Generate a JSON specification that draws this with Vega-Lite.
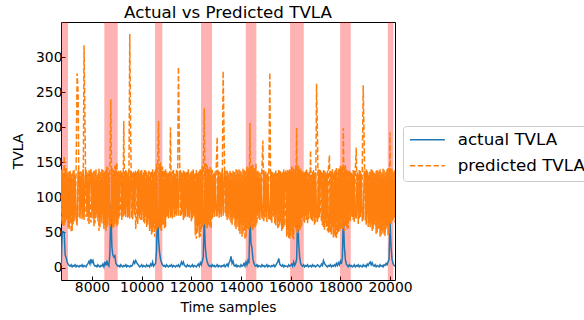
{
"$schema": "https://vega.github.io/schema/vega-lite/v6.json",
"width": 334, "height": 258,
"autosize": {"type": "none"},
"padding": {"left": 61, "top": 22, "right": 189, "bottom": 40},
"background": "white",
"title": {"text": "Actual vs Predicted TVLA", "fontSize": 16.7, "font": "DejaVu Sans", "fontWeight": "normal", "color": "#000", "anchor": "middle", "offset": 0, "dy": 0},
"config": {
 "view": {"stroke": "#000", "strokeWidth": 1},
 "font": "DejaVu Sans",
 "axis": {"domain": false, "grid": false, "tickColor": "#000", "tickWidth": 1, "tickSize": -4, "labelColor": "#000", "labelFontSize": 13.9, "labelFont": "DejaVu Sans", "titleFont": "DejaVu Sans", "titleFontSize": 13.9, "titleFontWeight": "normal", "titleColor": "#000"},
 "legend": {"orient": "none", "legendX": 342, "legendY": 104, "title": null, "symbolType": "M-2.5,0H2.5", "symbolSize": 196, "symbolStrokeWidth": 1.5, "symbolOffset": 10.5, "labelOffset": 22, "labelFontSize": 16.7, "labelFont": "DejaVu Sans", "labelColor": "#000", "strokeColor": "#cccccc", "fillColor": "#ffffff", "cornerRadius": 3, "padding": 5.5, "rowPadding": 8}
},
"datasets": {
 "bands": [
  {"start": 6752, "end": 7034}, {"start": 8496, "end": 9035}, {"start": 10538, "end": 10832}, {"start": 12390, "end": 12833},
  {"start": 14191, "end": 14618}, {"start": 15975, "end": 16527}, {"start": 17988, "end": 18419}, {"start": 19910, "end": 20135}
 ],
 "series": [
{"t":6760,"actual":3,"predicted":66,"predicted2":139},{"t":6800,"actual":51,"predicted":140,"predicted2":62},{"t":6840,"actual":51,"predicted":58,"predicted2":135},{"t":6880,"actual":50,"predicted":159,"predicted2":60},{"t":6920,"actual":18,"predicted":64,"predicted2":141},{"t":6960,"actual":14,"predicted":142,"predicted2":68},{"t":7000,"actual":8,"predicted":70,"predicted2":133},{"t":7040,"actual":5,"predicted":136,"predicted2":57},{"t":7080,"actual":3,"predicted":55,"predicted2":137},{"t":7120,"actual":2,"predicted":138,"predicted2":64},
{"t":7160,"actual":4,"predicted":50,"predicted2":133},{"t":7200,"actual":1,"predicted":134,"predicted2":52},{"t":7240,"actual":3,"predicted":62,"predicted2":138},{"t":7280,"actual":2,"predicted":139,"predicted2":66},{"t":7320,"actual":4,"predicted":74,"predicted2":131},{"t":7360,"actual":1,"predicted":136,"predicted2":70},{"t":7400,"actual":3,"predicted":277,"predicted2":60},{"t":7440,"actual":2,"predicted":250,"predicted2":138},{"t":7480,"actual":1,"predicted":72,"predicted2":135},{"t":7520,"actual":3,"predicted":137,"predicted2":70},
{"t":7560,"actual":2,"predicted":85,"predicted2":137},{"t":7600,"actual":4,"predicted":133,"predicted2":69},{"t":7640,"actual":1,"predicted":71,"predicted2":140},{"t":7680,"actual":3,"predicted":317,"predicted2":68},{"t":7720,"actual":2,"predicted":200,"predicted2":130},{"t":7760,"actual":1,"predicted":72,"predicted2":139},{"t":7800,"actual":4,"predicted":136,"predicted2":73},{"t":7840,"actual":6,"predicted":66,"predicted2":134},{"t":7880,"actual":9,"predicted":139,"predicted2":62},{"t":7920,"actual":5,"predicted":80,"predicted2":136},
{"t":7960,"actual":12,"predicted":64,"predicted2":140},{"t":8000,"actual":7,"predicted":135,"predicted2":70},{"t":8040,"actual":10,"predicted":92,"predicted2":136},{"t":8080,"actual":4,"predicted":138,"predicted2":59},{"t":8120,"actual":2,"predicted":63,"predicted2":138},{"t":8160,"actual":3,"predicted":140,"predicted2":71},{"t":8200,"actual":1,"predicted":75,"predicted2":132},{"t":8240,"actual":4,"predicted":134,"predicted2":66},{"t":8280,"actual":2,"predicted":52,"predicted2":141},{"t":8320,"actual":1,"predicted":137,"predicted2":57},
{"t":8360,"actual":3,"predicted":67,"predicted2":135},{"t":8400,"actual":2,"predicted":141,"predicted2":63},{"t":8440,"actual":5,"predicted":88,"predicted2":139},{"t":8480,"actual":1,"predicted":136,"predicted2":55},{"t":8520,"actual":8,"predicted":60,"predicted2":137},{"t":8560,"actual":3,"predicted":139,"predicted2":52},{"t":8600,"actual":10,"predicted":57,"predicted2":144},{"t":8640,"actual":4,"predicted":143,"predicted2":61},{"t":8680,"actual":2,"predicted":78,"predicted2":136},{"t":8720,"actual":20,"predicted":137,"predicted2":58},
{"t":8760,"actual":90,"predicted":240,"predicted2":65},{"t":8800,"actual":30,"predicted":62,"predicted2":142},{"t":8840,"actual":18,"predicted":140,"predicted2":56},{"t":8880,"actual":15,"predicted":58,"predicted2":139},{"t":8920,"actual":17,"predicted":145,"predicted2":62},{"t":8960,"actual":6,"predicted":66,"predicted2":147},{"t":9000,"actual":4,"predicted":150,"predicted2":59},{"t":9040,"actual":2,"predicted":61,"predicted2":136},{"t":9080,"actual":3,"predicted":138,"predicted2":70},{"t":9120,"actual":1,"predicted":74,"predicted2":134},
{"t":9160,"actual":4,"predicted":95,"predicted2":138},{"t":9200,"actual":2,"predicted":136,"predicted2":68},{"t":9240,"actual":1,"predicted":72,"predicted2":135},{"t":9280,"actual":3,"predicted":209,"predicted2":74},{"t":9320,"actual":2,"predicted":76,"predicted2":133},{"t":9360,"actual":4,"predicted":139,"predicted2":72},{"t":9400,"actual":1,"predicted":85,"predicted2":137},{"t":9440,"actual":3,"predicted":134,"predicted2":71},{"t":9480,"actual":2,"predicted":73,"predicted2":139},{"t":9520,"actual":1,"predicted":333,"predicted2":70},
{"t":9560,"actual":3,"predicted":180,"predicted2":136},{"t":9600,"actual":2,"predicted":71,"predicted2":134},{"t":9640,"actual":4,"predicted":137,"predicted2":69},{"t":9680,"actual":9,"predicted":90,"predicted2":137},{"t":9720,"actual":6,"predicted":135,"predicted2":75},{"t":9760,"actual":10,"predicted":55,"predicted2":136},{"t":9800,"actual":7,"predicted":84,"predicted2":134},{"t":9840,"actual":5,"predicted":138,"predicted2":62},{"t":9880,"actual":3,"predicted":74,"predicted2":140},{"t":9920,"actual":1,"predicted":134,"predicted2":70},
{"t":9960,"actual":2,"predicted":68,"predicted2":138},{"t":10000,"actual":4,"predicted":139,"predicted2":68},{"t":10040,"actual":1,"predicted":82,"predicted2":132},{"t":10080,"actual":3,"predicted":136,"predicted2":65},{"t":10120,"actual":2,"predicted":63,"predicted2":139},{"t":10160,"actual":1,"predicted":140,"predicted2":72},{"t":10200,"actual":4,"predicted":58,"predicted2":136},{"t":10240,"actual":2,"predicted":133,"predicted2":61},{"t":10280,"actual":3,"predicted":70,"predicted2":138},{"t":10320,"actual":1,"predicted":137,"predicted2":52},
{"t":10360,"actual":5,"predicted":56,"predicted2":135},{"t":10400,"actual":3,"predicted":138,"predicted2":47},{"t":10440,"actual":8,"predicted":50,"predicted2":140},{"t":10480,"actual":2,"predicted":135,"predicted2":58},{"t":10520,"actual":4,"predicted":44,"predicted2":137},{"t":10560,"actual":6,"predicted":141,"predicted2":55},{"t":10600,"actual":25,"predicted":53,"predicted2":148},{"t":10640,"actual":84,"predicted":146,"predicted2":57},{"t":10680,"actual":40,"predicted":209,"predicted2":60},{"t":10720,"actual":22,"predicted":56,"predicted2":141},
{"t":10760,"actual":12,"predicted":150,"predicted2":54},{"t":10800,"actual":7,"predicted":52,"predicted2":143},{"t":10840,"actual":4,"predicted":144,"predicted2":61},{"t":10880,"actual":2,"predicted":60,"predicted2":138},{"t":10920,"actual":3,"predicted":139,"predicted2":56},{"t":10960,"actual":1,"predicted":58,"predicted2":140},{"t":11000,"actual":4,"predicted":137,"predicted2":72},{"t":11040,"actual":2,"predicted":74,"predicted2":134},{"t":11080,"actual":1,"predicted":135,"predicted2":70},{"t":11120,"actual":3,"predicted":88,"predicted2":137},
{"t":11160,"actual":2,"predicted":200,"predicted2":71},{"t":11200,"actual":4,"predicted":73,"predicted2":136},{"t":11240,"actual":1,"predicted":138,"predicted2":70},{"t":11280,"actual":3,"predicted":92,"predicted2":139},{"t":11320,"actual":2,"predicted":134,"predicted2":72},{"t":11360,"actual":1,"predicted":76,"predicted2":133},{"t":11400,"actual":3,"predicted":140,"predicted2":74},{"t":11440,"actual":2,"predicted":84,"predicted2":137},{"t":11480,"actual":4,"predicted":286,"predicted2":74},{"t":11520,"actual":1,"predicted":177,"predicted2":131},
{"t":11560,"actual":3,"predicted":72,"predicted2":139},{"t":11600,"actual":8,"predicted":136,"predicted2":75},{"t":11640,"actual":5,"predicted":79,"predicted2":134},{"t":11680,"actual":8,"predicted":139,"predicted2":68},{"t":11720,"actual":3,"predicted":71,"predicted2":137},{"t":11760,"actual":2,"predicted":135,"predicted2":73},{"t":11800,"actual":1,"predicted":96,"predicted2":136},{"t":11840,"actual":4,"predicted":138,"predicted2":72},{"t":11880,"actual":2,"predicted":74,"predicted2":140},{"t":11920,"actual":3,"predicted":133,"predicted2":71},
{"t":11960,"actual":1,"predicted":86,"predicted2":135},{"t":12000,"actual":2,"predicted":137,"predicted2":66},{"t":12040,"actual":4,"predicted":70,"predicted2":138},{"t":12080,"actual":1,"predicted":140,"predicted2":73},{"t":12120,"actual":3,"predicted":75,"predicted2":133},{"t":12160,"actual":2,"predicted":136,"predicted2":46},{"t":12200,"actual":1,"predicted":41,"predicted2":139},{"t":12240,"actual":3,"predicted":134,"predicted2":50},{"t":12280,"actual":5,"predicted":60,"predicted2":136},{"t":12320,"actual":2,"predicted":138,"predicted2":43},
{"t":12360,"actual":7,"predicted":44,"predicted2":140},{"t":12400,"actual":4,"predicted":139,"predicted2":55},{"t":12440,"actual":9,"predicted":58,"predicted2":145},{"t":12480,"actual":15,"predicted":143,"predicted2":60},{"t":12520,"actual":72,"predicted":227,"predicted2":64},{"t":12560,"actual":30,"predicted":62,"predicted2":142},{"t":12600,"actual":15,"predicted":148,"predicted2":57},{"t":12640,"actual":8,"predicted":56,"predicted2":146},{"t":12680,"actual":4,"predicted":141,"predicted2":62},{"t":12720,"actual":2,"predicted":60,"predicted2":139},
{"t":12760,"actual":3,"predicted":145,"predicted2":58},{"t":12800,"actual":1,"predicted":55,"predicted2":141},{"t":12840,"actual":4,"predicted":139,"predicted2":70},{"t":12880,"actual":2,"predicted":78,"predicted2":134},{"t":12920,"actual":3,"predicted":136,"predicted2":72},{"t":12960,"actual":1,"predicted":82,"predicted2":137},{"t":13000,"actual":2,"predicted":140,"predicted2":74},{"t":13040,"actual":4,"predicted":186,"predicted2":74},{"t":13080,"actual":1,"predicted":80,"predicted2":138},{"t":13120,"actual":3,"predicted":137,"predicted2":71},
{"t":13160,"actual":2,"predicted":75,"predicted2":136},{"t":13200,"actual":1,"predicted":134,"predicted2":72},{"t":13240,"actual":3,"predicted":90,"predicted2":139},{"t":13280,"actual":2,"predicted":280,"predicted2":74},{"t":13320,"actual":4,"predicted":187,"predicted2":134},{"t":13360,"actual":1,"predicted":77,"predicted2":137},{"t":13400,"actual":3,"predicted":138,"predicted2":73},{"t":13440,"actual":5,"predicted":68,"predicted2":138},{"t":13480,"actual":2,"predicted":135,"predicted2":70},{"t":13520,"actual":7,"predicted":85,"predicted2":133},
{"t":13560,"actual":10,"predicted":139,"predicted2":67},{"t":13600,"actual":16,"predicted":64,"predicted2":135},{"t":13640,"actual":6,"predicted":134,"predicted2":61},{"t":13680,"actual":9,"predicted":72,"predicted2":138},{"t":13720,"actual":3,"predicted":137,"predicted2":69},{"t":13760,"actual":2,"predicted":58,"predicted2":136},{"t":13800,"actual":4,"predicted":140,"predicted2":55},{"t":13840,"actual":1,"predicted":66,"predicted2":139},{"t":13880,"actual":3,"predicted":136,"predicted2":58},{"t":13920,"actual":2,"predicted":52,"predicted2":140},
{"t":13960,"actual":1,"predicted":138,"predicted2":48},{"t":14000,"actual":4,"predicted":62,"predicted2":137},{"t":14040,"actual":2,"predicted":133,"predicted2":44},{"t":14080,"actual":3,"predicted":47,"predicted2":141},{"t":14120,"actual":6,"predicted":139,"predicted2":52},{"t":14160,"actual":2,"predicted":40,"predicted2":138},{"t":14200,"actual":8,"predicted":137,"predicted2":43},{"t":14240,"actual":4,"predicted":56,"predicted2":144},{"t":14280,"actual":10,"predicted":142,"predicted2":55},{"t":14320,"actual":6,"predicted":54,"predicted2":143},
{"t":14360,"actual":75,"predicted":206,"predicted2":57},{"t":14400,"actual":35,"predicted":58,"predicted2":144},{"t":14440,"actual":28,"predicted":146,"predicted2":55},{"t":14480,"actual":12,"predicted":52,"predicted2":147},{"t":14520,"actual":6,"predicted":140,"predicted2":59},{"t":14560,"actual":3,"predicted":57,"predicted2":142},{"t":14600,"actual":2,"predicted":148,"predicted2":60},{"t":14640,"actual":4,"predicted":62,"predicted2":137},{"t":14680,"actual":1,"predicted":138,"predicted2":73},{"t":14720,"actual":3,"predicted":70,"predicted2":136},
{"t":14760,"actual":2,"predicted":135,"predicted2":68},{"t":14800,"actual":1,"predicted":80,"predicted2":134},{"t":14840,"actual":4,"predicted":139,"predicted2":72},{"t":14880,"actual":2,"predicted":181,"predicted2":70},{"t":14920,"actual":3,"predicted":66,"predicted2":139},{"t":14960,"actual":1,"predicted":136,"predicted2":71},{"t":15000,"actual":2,"predicted":72,"predicted2":137},{"t":15040,"actual":4,"predicted":134,"predicted2":65},{"t":15080,"actual":1,"predicted":88,"predicted2":135},{"t":15120,"actual":3,"predicted":138,"predicted2":70},
{"t":15160,"actual":2,"predicted":278,"predicted2":70},{"t":15200,"actual":1,"predicted":67,"predicted2":138},{"t":15240,"actual":3,"predicted":137,"predicted2":64},{"t":15280,"actual":2,"predicted":74,"predicted2":136},{"t":15320,"actual":4,"predicted":133,"predicted2":72},{"t":15360,"actual":1,"predicted":62,"predicted2":135},{"t":15400,"actual":3,"predicted":139,"predicted2":60},{"t":15440,"actual":6,"predicted":82,"predicted2":134},{"t":15480,"actual":8,"predicted":135,"predicted2":56},{"t":15520,"actual":13,"predicted":58,"predicted2":139},
{"t":15560,"actual":5,"predicted":138,"predicted2":61},{"t":15600,"actual":3,"predicted":65,"predicted2":137},{"t":15640,"actual":2,"predicted":134,"predicted2":52},{"t":15680,"actual":4,"predicted":55,"predicted2":136},{"t":15720,"actual":1,"predicted":140,"predicted2":58},{"t":15760,"actual":3,"predicted":60,"predicted2":135},{"t":15800,"actual":2,"predicted":88,"predicted2":137},{"t":15840,"actual":2,"predicted":136,"predicted2":44},{"t":15880,"actual":1,"predicted":47,"predicted2":139},{"t":15920,"actual":4,"predicted":138,"predicted2":42},
{"t":15960,"actual":2,"predicted":41,"predicted2":140},{"t":16000,"actual":3,"predicted":137,"predicted2":45},{"t":16040,"actual":5,"predicted":52,"predicted2":144},{"t":16080,"actual":2,"predicted":143,"predicted2":42},{"t":16120,"actual":8,"predicted":40,"predicted2":141},{"t":16160,"actual":3,"predicted":139,"predicted2":58},{"t":16200,"actual":6,"predicted":55,"predicted2":146},{"t":16240,"actual":12,"predicted":199,"predicted2":51},{"t":16280,"actual":77,"predicted":48,"predicted2":142},{"t":16320,"actual":35,"predicted":145,"predicted2":54},
{"t":16360,"actual":15,"predicted":53,"predicted2":139},{"t":16400,"actual":6,"predicted":141,"predicted2":56},{"t":16440,"actual":3,"predicted":58,"predicted2":137},{"t":16480,"actual":2,"predicted":138,"predicted2":70},{"t":16520,"actual":4,"predicted":66,"predicted2":135},{"t":16560,"actual":1,"predicted":136,"predicted2":64},{"t":16600,"actual":3,"predicted":74,"predicted2":138},{"t":16640,"actual":2,"predicted":140,"predicted2":68},{"t":16680,"actual":4,"predicted":62,"predicted2":136},{"t":16720,"actual":1,"predicted":134,"predicted2":69},
{"t":16760,"actual":2,"predicted":80,"predicted2":137},{"t":16800,"actual":3,"predicted":167,"predicted2":70},{"t":16840,"actual":1,"predicted":68,"predicted2":133},{"t":16880,"actual":4,"predicted":137,"predicted2":66},{"t":16920,"actual":2,"predicted":72,"predicted2":139},{"t":16960,"actual":3,"predicted":135,"predicted2":61},{"t":17000,"actual":1,"predicted":64,"predicted2":136},{"t":17040,"actual":2,"predicted":262,"predicted2":74},{"t":17080,"actual":4,"predicted":184,"predicted2":65},{"t":17120,"actual":3,"predicted":70,"predicted2":140},
{"t":17160,"actual":1,"predicted":139,"predicted2":72},{"t":17200,"actual":2,"predicted":86,"predicted2":137},{"t":17240,"actual":5,"predicted":66,"predicted2":135},{"t":17280,"actual":3,"predicted":136,"predicted2":60},{"t":17320,"actual":10,"predicted":57,"predicted2":139},{"t":17360,"actual":6,"predicted":138,"predicted2":54},{"t":17400,"actual":4,"predicted":63,"predicted2":136},{"t":17440,"actual":2,"predicted":134,"predicted2":58},{"t":17480,"actual":1,"predicted":52,"predicted2":138},{"t":17520,"actual":3,"predicted":140,"predicted2":50},
{"t":17560,"actual":2,"predicted":160,"predicted2":53},{"t":17600,"actual":4,"predicted":49,"predicted2":138},{"t":17640,"actual":1,"predicted":137,"predicted2":47},{"t":17680,"actual":3,"predicted":56,"predicted2":140},{"t":17720,"actual":2,"predicted":135,"predicted2":43},{"t":17760,"actual":4,"predicted":45,"predicted2":137},{"t":17800,"actual":2,"predicted":139,"predicted2":44},{"t":17840,"actual":6,"predicted":41,"predicted2":142},{"t":17880,"actual":3,"predicted":136,"predicted2":48},{"t":17920,"actual":7,"predicted":50,"predicted2":141},
{"t":17960,"actual":4,"predicted":141,"predicted2":52},{"t":18000,"actual":9,"predicted":54,"predicted2":145},{"t":18040,"actual":5,"predicted":143,"predicted2":57},{"t":18080,"actual":14,"predicted":55,"predicted2":144},{"t":18120,"actual":74,"predicted":199,"predicted2":56},{"t":18160,"actual":30,"predicted":52,"predicted2":140},{"t":18200,"actual":12,"predicted":146,"predicted2":60},{"t":18240,"actual":5,"predicted":58,"predicted2":139},{"t":18280,"actual":3,"predicted":140,"predicted2":55},{"t":18320,"actual":1,"predicted":56,"predicted2":137},
{"t":18360,"actual":4,"predicted":138,"predicted2":69},{"t":18400,"actual":2,"predicted":66,"predicted2":136},{"t":18440,"actual":3,"predicted":135,"predicted2":74},{"t":18480,"actual":1,"predicted":72,"predicted2":133},{"t":18520,"actual":2,"predicted":139,"predicted2":68},{"t":18560,"actual":4,"predicted":65,"predicted2":138},{"t":18600,"actual":1,"predicted":137,"predicted2":75},{"t":18640,"actual":3,"predicted":171,"predicted2":70},{"t":18680,"actual":2,"predicted":84,"predicted2":136},{"t":18720,"actual":4,"predicted":134,"predicted2":62},
{"t":18760,"actual":1,"predicted":70,"predicted2":139},{"t":18800,"actual":3,"predicted":138,"predicted2":72},{"t":18840,"actual":2,"predicted":78,"predicted2":134},{"t":18880,"actual":1,"predicted":136,"predicted2":66},{"t":18920,"actual":4,"predicted":260,"predicted2":70},{"t":18960,"actual":2,"predicted":179,"predicted2":137},{"t":19000,"actual":3,"predicted":67,"predicted2":135},{"t":19040,"actual":1,"predicted":140,"predicted2":61},{"t":19080,"actual":5,"predicted":90,"predicted2":138},{"t":19120,"actual":3,"predicted":133,"predicted2":58},
{"t":19160,"actual":6,"predicted":64,"predicted2":136},{"t":19200,"actual":8,"predicted":137,"predicted2":57},{"t":19240,"actual":4,"predicted":62,"predicted2":140},{"t":19280,"actual":7,"predicted":139,"predicted2":52},{"t":19320,"actual":3,"predicted":55,"predicted2":137},{"t":19360,"actual":2,"predicted":135,"predicted2":62},{"t":19400,"actual":4,"predicted":60,"predicted2":134},{"t":19440,"actual":1,"predicted":138,"predicted2":48},{"t":19480,"actual":3,"predicted":50,"predicted2":139},{"t":19520,"actual":2,"predicted":136,"predicted2":55},
{"t":19560,"actual":1,"predicted":57,"predicted2":138},{"t":19600,"actual":4,"predicted":140,"predicted2":44},{"t":19640,"actual":2,"predicted":46,"predicted2":136},{"t":19680,"actual":3,"predicted":134,"predicted2":49},{"t":19720,"actual":1,"predicted":52,"predicted2":141},{"t":19760,"actual":4,"predicted":139,"predicted2":47},{"t":19800,"actual":3,"predicted":45,"predicted2":135},{"t":19840,"actual":6,"predicted":137,"predicted2":55},{"t":19880,"actual":4,"predicted":58,"predicted2":140},{"t":19920,"actual":8,"predicted":142,"predicted2":46},
{"t":19960,"actual":12,"predicted":48,"predicted2":141},{"t":20000,"actual":65,"predicted":193,"predicted2":64},{"t":20040,"actual":30,"predicted":62,"predicted2":137},{"t":20080,"actual":12,"predicted":141,"predicted2":66},{"t":20120,"actual":6,"predicted":68,"predicted2":135},{"t":20160,"actual":3,"predicted":138,"predicted2":70},{"t":20200,"actual":2,"predicted":64,"predicted2":139}
 ]
},
"layer": [
 {
  "data": {"name": "bands"},
  "mark": {"type": "rect", "color": "#ff0000", "opacity": 0.3, "clip": true},
  "encoding": {
   "x": {"field": "start", "type": "quantitative", "scale": {"domain": [6752, 20200], "nice": false, "zero": false}, "title": "Time samples", "axis": {"values": [8000, 10000, 12000, 14000, 16000, 18000, 20000], "format": "d", "labelPadding": 4, "titlePadding": 7}},
   "x2": {"field": "end"}
  }
 },
 {
  "data": {"name": "series"},
  "transform": [{"fold": ["actual", "predicted", "predicted2"], "as": ["series", "v"]}],
  "mark": {"type": "line", "clip": true},
  "encoding": {
   "x": {"field": "t", "type": "quantitative", "scale": {"domain": [6752, 20200], "nice": false, "zero": false}, "title": "Time samples", "axis": {"values": [8000, 10000, 12000, 14000, 16000, 18000, 20000], "format": "d", "labelPadding": 4, "titlePadding": 7}},
   "y": {"field": "v", "type": "quantitative", "scale": {"domain": [-17.7, 350], "nice": false, "zero": false}, "title": "TVLA", "axis": {"values": [0, 50, 100, 150, 200, 250, 300], "labelPadding": 3, "titlePadding": 10}},
   "color": {"field": "series", "type": "nominal", "scale": {"domain": ["actual", "predicted", "predicted2"], "range": ["#1f77b4", "#ff7f0e", "#ff7f0e"]}, "legend": {"values": ["actual", "predicted"], "labelExpr": "datum.label + ' TVLA'"}},
   "strokeDash": {"field": "series", "type": "nominal", "scale": {"domain": ["actual", "predicted", "predicted2"], "range": [[1, 0], [5.5, 2.4], [1, 0]]}, "legend": {"values": ["actual", "predicted"], "labelExpr": "datum.label + ' TVLA'"}},
   "strokeWidth": {"field": "series", "type": "nominal", "scale": {"domain": ["actual", "predicted", "predicted2"], "range": [1.5, 1.5, 2.2]}, "legend": null}
  }
 }
]
}
